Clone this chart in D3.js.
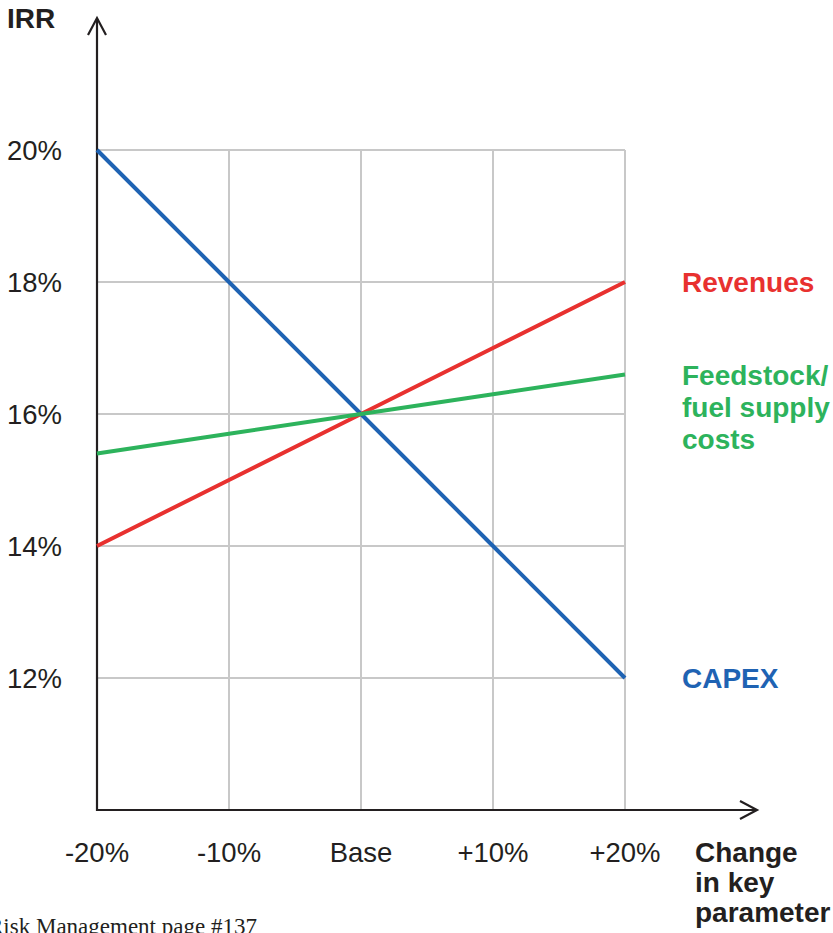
<!DOCTYPE html>
<html>
<head>
<meta charset="utf-8">
<script src="https://cdn.jsdelivr.net/npm/d3@7"></script>
<style>
  html, body { margin: 0; padding: 0; background: #fff; overflow: hidden; }
  svg { display: block; }
</style>
</head>
<body>
<svg id="chart" width="833" height="933"></svg>
<script>
// Sensitivity of IRR to changes in key project parameters
const categories = ["-20%", "-10%", "Base", "+10%", "+20%"];
const yTicks = [12, 14, 16, 18, 20];
const yTickLabels = ["12%", "14%", "16%", "18%", "20%"];

const capex = [20, 18, 16, 14, 12];
const revenues = [14, 15, 16, 17, 18];
const feedstock = [15.4, 15.7, 16, 16.3, 16.6];

const seriesNames = ["CAPEX", "Revenues", "Feedstock/ fuel supply costs"];
const seriesColors = ["#1f63b3", "#e8312f", "#2db35c"];

const svg = d3.select("#chart");
const font = "'Liberation Sans', Arial, Helvetica, sans-serif";
const ink = "#231f20";

const x = d3.scalePoint().domain(categories).range([97, 625]);
const y = d3.scaleLinear().domain([10, 20]).range([810, 150]);

// grid
const grid = svg.append("g");
grid.selectAll("line.h").data(yTicks).join("line")
  .attr("x1", x(categories[0])).attr("x2", x(categories[categories.length - 1]))
  .attr("y1", d => y(d)).attr("y2", d => y(d))
  .attr("stroke", "#c8c8c8").attr("stroke-width", 2);
grid.selectAll("line.v").data(categories.slice(1)).join("line")
  .attr("x1", d => x(d)).attr("x2", d => x(d))
  .attr("y1", y(20)).attr("y2", y(10))
  .attr("stroke", "#c8c8c8").attr("stroke-width", 2);

// axes with open arrowheads
const axes = svg.append("g").attr("stroke", ink).attr("stroke-width", 2.2).attr("fill", "none");
axes.append("line").attr("x1", 97).attr("x2", 97).attr("y1", y(10) + 1).attr("y2", 19);
axes.append("path").attr("d", "M88,35 L97,18 L106,35");
axes.append("line").attr("x1", 96).attr("x2", 756).attr("y1", y(10)).attr("y2", y(10));
axes.append("path").attr("d", "M740,801 L757,810 L740,819");

// series lines
const line = d3.line().x((d, i) => x(categories[i])).y(d => y(d));
[capex, revenues, feedstock].forEach((vals, i) => {
  svg.append("path").datum(vals)
    .attr("d", line)
    .attr("fill", "none")
    .attr("stroke", seriesColors[i])
    .attr("stroke-width", 4);
});

// y tick labels
svg.append("g").selectAll("text").data(yTicks).join("text")
  .attr("x", 62).attr("y", d => y(d) + 10)
  .attr("text-anchor", "end")
  .attr("font-family", font).attr("font-size", 27.5).attr("fill", ink)
  .text((d, i) => yTickLabels[i]);

// x tick labels
svg.append("g").selectAll("text").data(categories).join("text")
  .attr("x", d => x(d)).attr("y", 862)
  .attr("text-anchor", "middle")
  .attr("font-family", font).attr("font-size", 27.5).attr("fill", ink)
  .text(d => d);

// axis titles
svg.append("text").attr("x", 7).attr("y", 28)
  .attr("font-family", font).attr("font-size", 28).attr("font-weight", "bold").attr("fill", ink)
  .text("IRR");
const xt = svg.append("text").attr("font-family", font).attr("font-size", 28)
  .attr("font-weight", "bold").attr("fill", ink);
["Change", "in key", "parameter"].forEach((t, i) => {
  xt.append("tspan").attr("x", 695).attr("y", 862 + i * 30).text(t);
});

// series labels
const labelX = 682;
const labelLines = [["CAPEX"], ["Revenues"], ["Feedstock/", "fuel supply", "costs"]];
const labelY = [688, 292, 385];
labelLines.forEach((lines, i) => {
  const t = svg.append("text").attr("font-family", font).attr("font-size", 28)
    .attr("font-weight", "bold").attr("fill", seriesColors[i]);
  lines.forEach((s, j) => t.append("tspan").attr("x", labelX).attr("y", labelY[i] + j * 32).text(s));
});

// source footer
svg.append("text").attr("x", -12).attr("y", 934)
  .attr("font-family", "'Liberation Serif', 'Times New Roman', serif").attr("font-size", 23)
  .attr("fill", ink)
  .text("Risk Management page #137");
</script>
</body>
</html>
